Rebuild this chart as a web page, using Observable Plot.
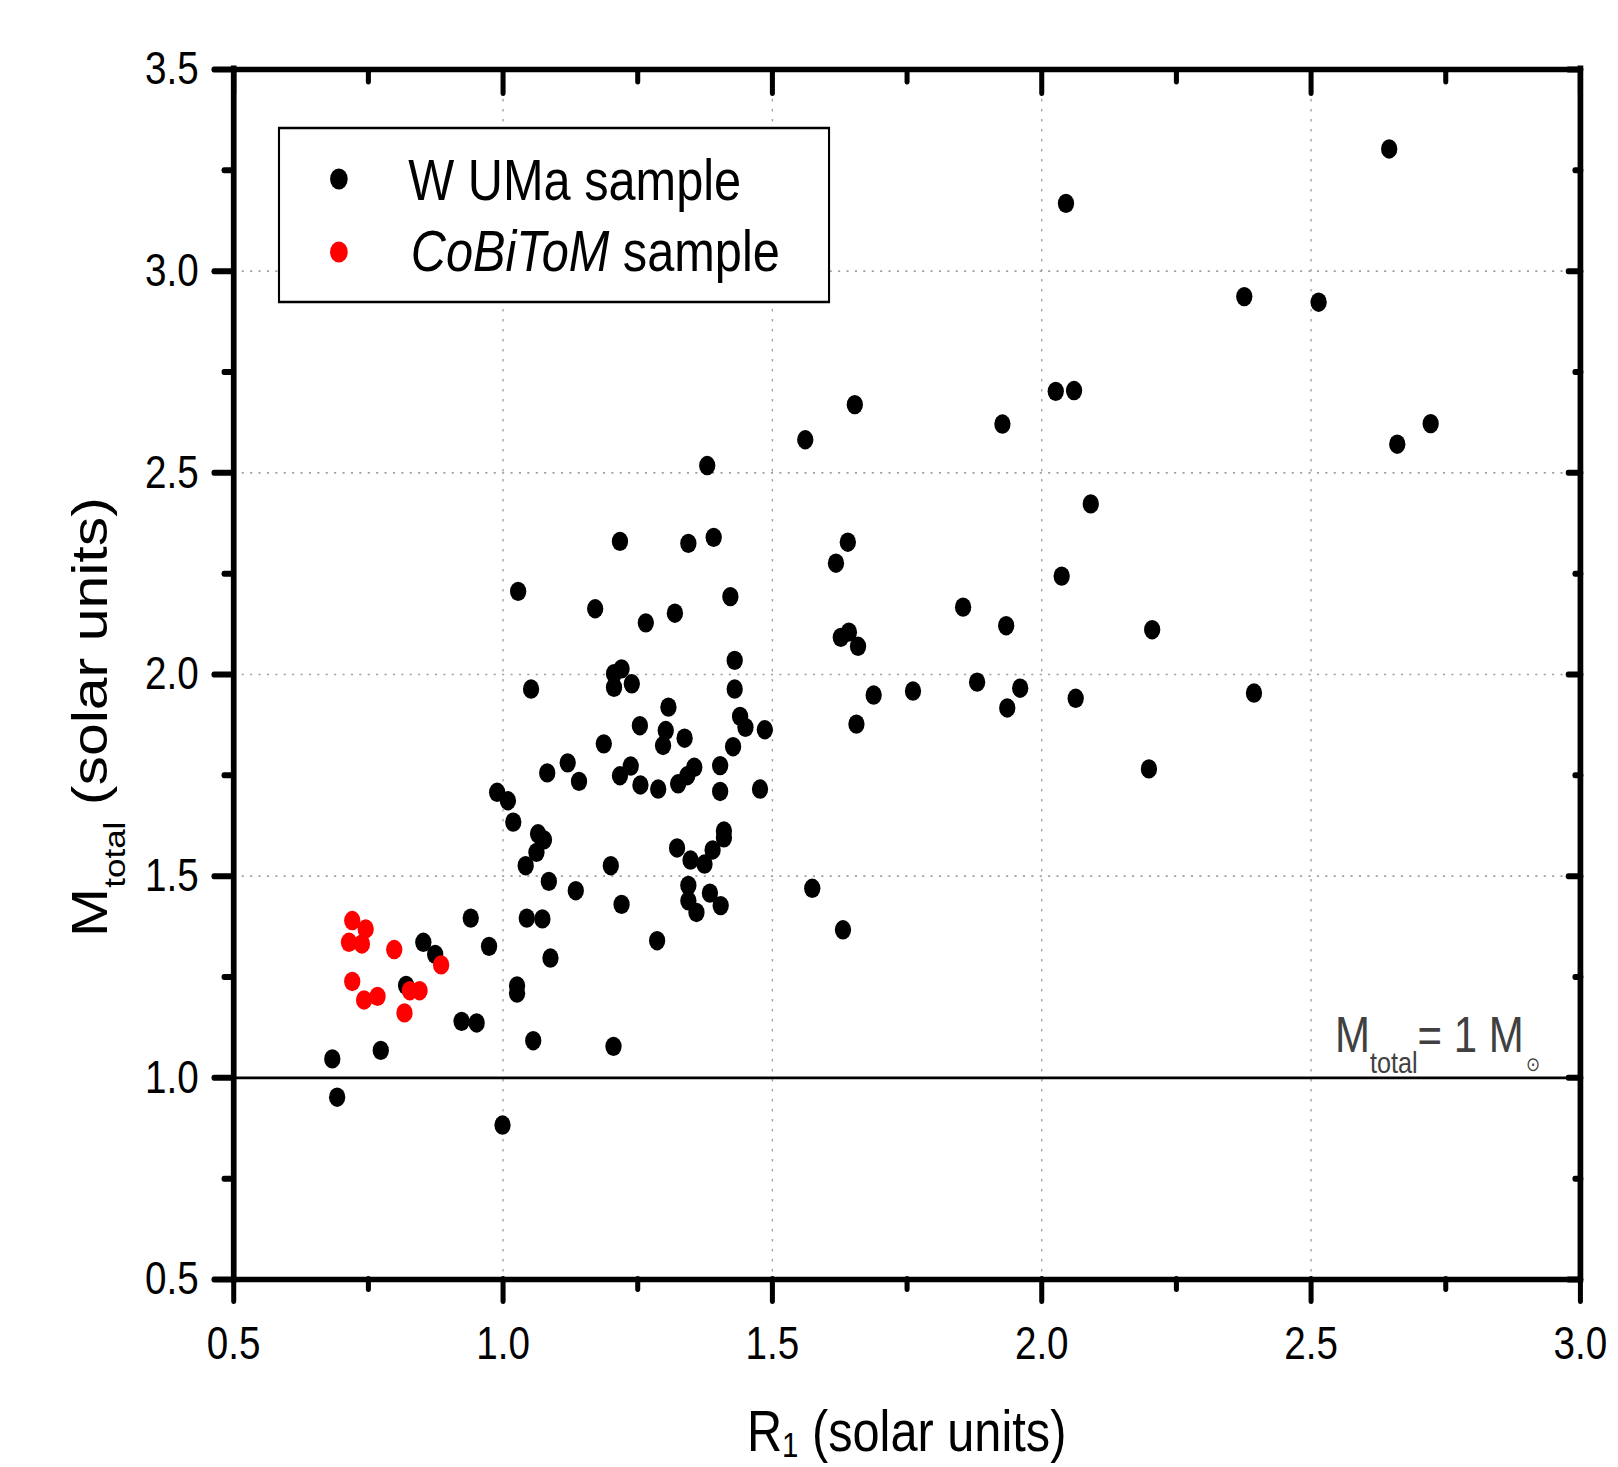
<!DOCTYPE html>
<html>
<head>
<meta charset="utf-8">
<script src="https://cdn.jsdelivr.net/npm/d3@7"></script>
<script src="https://cdn.jsdelivr.net/npm/@observablehq/plot@0.6"></script>
<style>
  html, body { margin: 0; padding: 0; background: #fff; }
  #wrap { width: 1618px; height: 1467px; overflow: hidden; position: relative; background: #fff; }
  #chart { width: 1926px; transform-origin: 0 0; transform: scaleX(0.84); }
</style>
</head>
<body>
<div id="wrap"><div id="chart"></div></div>
<script>
// ---------- data ----------
// W UMa sample: R1 (solar units), Mtotal (solar units)
const wumaR = [0.683,0.692,0.773,0.820,0.852,0.874,0.940,0.923,0.951,0.974,0.999,1.026,1.026,1.042,1.044,1.073,1.056,1.085,1.088,1.135,
  1.200,1.220,1.205,1.062,1.217,1.344,1.391,1.028,1.171,1.265,1.319,1.422,1.430,1.206,1.220,1.206,1.239,1.052,1.430,1.307,
  1.254,1.302,1.297,1.337,1.440,1.450,1.486,1.427,1.187,1.120,1.082,1.141,1.237,1.217,1.255,1.288,1.325,1.342,1.355,1.403,
  1.403,1.477,0.989,1.009,1.019,1.065,1.076,1.410,1.410,1.323,1.389,1.348,1.374,1.344,1.344,1.359,1.384,1.404,1.379,1.286,
  1.653,1.561,1.927,2.026,2.060,2.091,1.640,1.618,2.037,1.854,1.934,2.205,1.627,1.642,1.659,1.688,1.761,1.880,1.960,1.936,
  2.063,2.394,1.656,2.199,1.574,1.631,2.045,2.645,2.376,2.514,2.722,2.660];
const wumaM = [1.047,0.952,1.068,1.229,1.336,1.306,1.396,1.140,1.136,1.326,0.883,1.228,1.210,1.526,1.396,1.394,1.092,1.487,1.297,1.464,
  1.526,1.430,1.078,1.559,2.330,2.325,2.340,2.206,2.163,2.128,2.152,2.193,2.035,2.002,2.014,1.968,1.977,1.964,1.964,1.919,
  1.873,1.861,1.824,1.842,1.896,1.869,1.863,1.821,1.828,1.781,1.756,1.735,1.773,1.749,1.726,1.716,1.729,1.749,1.770,1.774,
  1.710,1.716,1.708,1.687,1.634,1.605,1.590,1.612,1.595,1.570,1.565,1.540,1.530,1.477,1.439,1.410,1.458,1.427,2.518,1.340,
  2.669,2.582,2.621,2.702,2.704,2.423,2.328,2.276,2.244,2.167,2.121,2.111,2.092,2.105,2.070,1.949,1.959,1.981,1.966,1.917,
  1.941,1.954,1.877,1.766,1.470,1.367,3.168,3.303,2.937,2.923,2.622,2.571];
// CoBiToM sample
const cobR = [0.720,0.745,0.714,0.738,0.798,0.885,0.720,0.742,0.767,0.827,0.845,0.817];
const cobM = [1.390,1.369,1.336,1.332,1.318,1.280,1.239,1.193,1.202,1.216,1.216,1.161];

const xMajor = [0.5, 1.0, 1.5, 2.0, 2.5, 3.0];
const xMinor = [0.75, 1.25, 1.75, 2.25, 2.75];
const yMajor = [0.5, 1.0, 1.5, 2.0, 2.5, 3.0, 3.5];
const yMinor = [0.75, 1.25, 1.75, 2.25, 2.75, 3.25];
const xGrid = [1.0, 1.5, 2.0, 2.5];
const yGrid = [1.0, 1.5, 2.0, 2.5, 3.0];
const xDomain = [0.5, 3.0];
const yDomain = [0.5, 3.5];
const refMass = [1.0];
const seriesNames = ["W UMa sample", "CoBiToM sample"];
const seriesColors = ["#000000", "#ff0000"];

// ---------- tables ----------
const wuma = wumaR.map((r, i) => ({R: r, M: wumaM[i]}));
const cobitom = cobR.map((r, i) => ({R: r, M: cobM[i]}));

// ---------- layout (the original picture is horizontally compressed; we draw wide and squeeze) ----------
const K = 0.84;
const W = 1926, H = 1467;
const L = 233.3 / K, R = 1580 / K, T = 69, B = 1279;
const FONT = "'Liberation Sans', Arial, Helvetica, sans-serif";
const fmt = d3.format(".1f");

const plot = Plot.plot({
  width: W, height: H,
  marginLeft: L, marginRight: W - R, marginTop: T, marginBottom: H - B,
  style: {fontFamily: FONT, fontSize: "46px", color: "black", background: "white", overflow: "visible"},
  x: {domain: xDomain},
  y: {domain: yDomain},
  marks: [
    Plot.ruleX(xGrid, {stroke: "#a0a0a0", strokeWidth: 1.6, strokeDasharray: "2.5,7.5"}),
    Plot.ruleY(yGrid, {stroke: "#a0a0a0", strokeWidth: 1.6, strokeDasharray: "2.5,7.5"}),
    Plot.ruleY(refMass, {stroke: "black", strokeWidth: 2.6}),
    Plot.dot(wuma, {x: "R", y: "M", r: 9.7, fill: seriesColors[0], stroke: "none"}),
    Plot.dot(cobitom, {x: "R", y: "M", r: 9.7, fill: seriesColors[1], stroke: "none"}),
    Plot.ruleX(xDomain, {stroke: "black", strokeWidth: 6.8, strokeLinecap: "square"}),
    Plot.ruleY(yDomain, {stroke: "black", strokeWidth: 5.7, strokeLinecap: "square"}),
    // bottom axis
    Plot.axisX(xMajor, {anchor: "bottom", tickSize: 22, tickPadding: 25, strokeWidth: 6, strokeLinecap: "round",
      tickFormat: fmt, fontSize: 46, label: null}),
    Plot.axisX(xMinor, {anchor: "bottom", tickSize: 10, strokeWidth: 6, strokeLinecap: "round", fill: "none", label: null}),
    // top axis (inward ticks)
    Plot.axisX(xMajor, {anchor: "top", tickSize: -23, strokeWidth: 6, strokeLinecap: "round", fill: "none", label: null}),
    Plot.axisX(xMinor, {anchor: "top", tickSize: -11.5, strokeWidth: 6, strokeLinecap: "round", fill: "none", label: null}),
    // left axis
    Plot.axisY(yMajor, {anchor: "left", tickSize: 23, tickPadding: 18.7, strokeWidth: 6, strokeLinecap: "round",
      tickFormat: fmt, fontSize: 46, label: null}),
    Plot.axisY(yMinor, {anchor: "left", tickSize: 11, strokeWidth: 6, strokeLinecap: "round", fill: "none", label: null}),
    // right axis (inward ticks)
    Plot.axisY(yMajor, {anchor: "right", tickSize: -15, strokeWidth: 6, strokeLinecap: "round", fill: "none", label: null}),
    Plot.axisY(yMinor, {anchor: "right", tickSize: -7, strokeWidth: 6, strokeLinecap: "round", fill: "none", label: null})
  ]
});

document.getElementById("chart").appendChild(plot);

// ---------- texts with subscripts, legend ----------
const svg = d3.select(plot);
const g = svg.append("g").attr("font-family", FONT).attr("fill", "black");

// x axis title
const xt = g.append("text").attr("text-anchor", "middle").attr("x", (L + R) / 2).attr("y", 1451).attr("font-size", 58);
xt.append("tspan").text("R");
xt.append("tspan").attr("font-size", 35).attr("dy", 6).text("1");
xt.append("tspan").attr("dy", -6).text(" (solar units)");

// y axis title
const yt = g.append("text").attr("text-anchor", "middle").attr("font-size", 59)
  .attr("transform", `translate(${107 / K},717) rotate(-90)`);
yt.append("tspan").text("M");
yt.append("tspan").attr("font-size", 35).attr("dy", 22).text("total");
yt.append("tspan").attr("dy", -22).text(" (solar units)");

// annotation on the reference line
const yRef = T + (yDomain[1] - refMass[0]) / (yDomain[1] - yDomain[0]) * (B - T);
const at = g.append("text").attr("text-anchor", "start").attr("x", R - 291.7).attr("y", yRef - 25.6)
  .attr("font-size", 50).attr("fill", "#404040");
at.append("tspan").text("M");
at.append("tspan").attr("font-size", 30).attr("dy", 21.6).text("total");
at.append("tspan").attr("dy", -21.6).text("= 1 M");
at.append("tspan").attr("font-size", 20).attr("dy", 19).attr("dx", 3).text("\u2299");

// legend
const lg = g.append("g").attr("text-anchor", "start").attr("transform", `translate(${L + 54.4},${T})`);
lg.append("rect").attr("x", 0).attr("y", 59).attr("width", 654.8).attr("height", 174)
  .attr("fill", "white").attr("stroke", "black").attr("stroke-width", 2.5);
lg.append("circle").attr("cx", 71.3).attr("cy", 110).attr("r", 10.5).attr("fill", seriesColors[0]);
lg.append("text").attr("x", 153.9).attr("y", 131).attr("font-size", 58).text(seriesNames[0]);
lg.append("circle").attr("cx", 71.3).attr("cy", 183).attr("r", 10.5).attr("fill", seriesColors[1]);
const l2 = lg.append("text").attr("x", 156.9).attr("y", 202).attr("font-size", 58);
l2.append("tspan").attr("font-style", "italic").text(seriesNames[1].split(" ")[0]);
l2.append("tspan").text(" " + seriesNames[1].split(" ")[1]);
</script>
</body>
</html>
